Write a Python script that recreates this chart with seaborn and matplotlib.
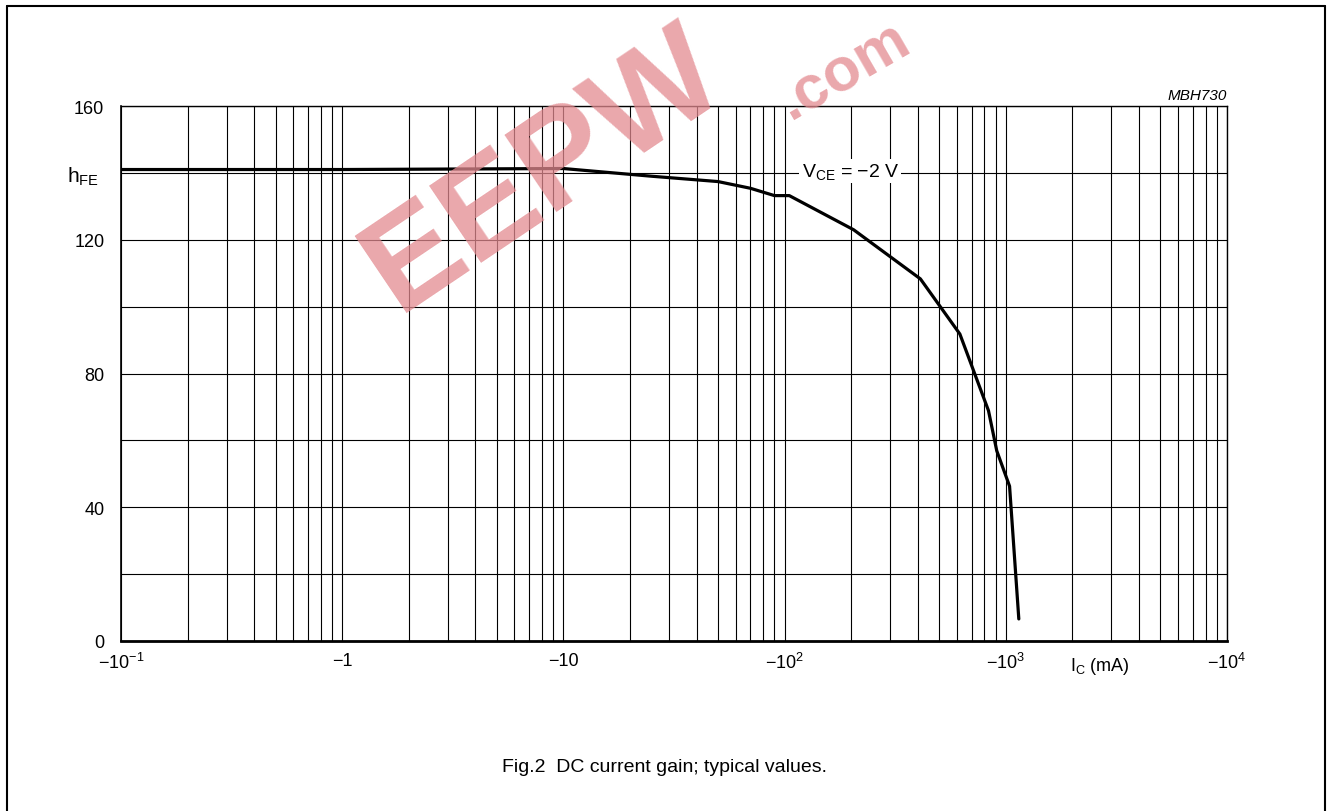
"""
DC current gain plot (datasheet style), hFE vs collector current.
"""

import matplotlib
matplotlib.use("Agg")
import matplotlib.pyplot as plt
import seaborn as sns
from matplotlib.lines import Line2D
from matplotlib.ticker import LogLocator, NullFormatter

# ------------------------------------------------------------------
# Data (VCE = -2 V)
# ------------------------------------------------------------------
ic_ma = [0.1, 1, 10, 25, 50, 70, 90, 105, 205, 411, 620, 835, 910, 1040, 1145]
hfe = [141, 141, 141.3, 139, 137.4, 135.4, 133.2, 133.2, 123, 108.3, 91.8, 68.9, 56.9, 46.3, 6.6]

x_ticks = [0.1, 1, 10, 100, 1000, 10000]
x_tick_labels = ["\u221210$^{\u22121}$", "\u22121", "\u221210",
                 "\u221210$^{2}$", "\u221210$^{3}$", "\u221210$^{4}$"]
y_ticks = [0, 40, 80, 120, 160]

sns.set_style("white")
plt.rcParams["font.family"] = ["Liberation Sans", "DejaVu Sans"]
plt.rcParams["mathtext.fontset"] = "custom"
plt.rcParams["mathtext.rm"] = "Liberation Sans"
plt.rcParams["mathtext.it"] = "Liberation Sans:italic"
plt.rcParams["mathtext.default"] = "regular"
plt.rcParams["text.color"] = "black"
plt.rcParams["xtick.color"] = "black"
plt.rcParams["ytick.color"] = "black"

fig = plt.figure(figsize=(13.32, 8.12), dpi=100)
ax = fig.add_axes([121 / 1332, 1 - 642 / 812, 1106 / 1332, 535 / 812])

sns.lineplot(x=ic_ma, y=hfe, ax=ax, color="black", lw=2.3,
             sort=False, estimator=None, zorder=5)

ax.set_xscale("log")
ax.set_xlim(0.1, 10000)
ax.set_ylim(0, 160)

# log grid: decades + 2..9 subdivisions, y every 20
ax.xaxis.set_major_locator(LogLocator(base=10, numticks=10))
ax.xaxis.set_minor_locator(LogLocator(base=10, subs=range(2, 10), numticks=100))
ax.xaxis.set_minor_formatter(NullFormatter())
ax.set_xticks(x_ticks)
ax.set_xticklabels(x_tick_labels)
ax.set_yticks(range(0, 161, 20), minor=True)
ax.set_yticks(y_ticks)
ax.grid(which="both", color="black", lw=0.8)
ax.tick_params(which="both", length=0, labelsize=13)
ax.tick_params(axis="x", pad=8)
ax.tick_params(axis="y", pad=12)

for side, sp in ax.spines.items():
    sp.set_visible(True)
    sp.set_color("black")
    sp.set_linewidth(1.0)
ax.spines["bottom"].set_linewidth(2.0)
ax.spines["left"].set_linewidth(1.2)

# labels
ax.text(-0.02, 0.87, "h$_{FE}$", transform=ax.transAxes, ha="right", va="center", fontsize=15)
ax.text(198, 140.5, "V$_{CE}$ = \u22122 V", ha="center", va="center", fontsize=14,
        bbox=dict(facecolor="white", edgecolor="none", pad=1.5), zorder=6)
ax.text(0.885, -0.045, "I$_{C}$ (mA)", transform=ax.transAxes, ha="center", va="center", fontsize=13)
ax.text(1.0, 1.008, "MBH730", transform=ax.transAxes, ha="right", va="bottom",
        fontsize=11, style="italic")

fig.text(665 / 1332, 1 - 768 / 812, "Fig.2  DC current gain; typical values.",
         ha="center", va="center", fontsize=14)

# outer frame of the datasheet figure
l, r, t = 7 / 1332, 1325 / 1332, 1 - 7 / 812
for xs, ys in [([l, l], [-0.01, t]), ([l, r], [t, t]), ([r, r], [t, -0.01])]:
    fig.add_artist(Line2D(xs, ys, color="black", lw=1.5, transform=fig.transFigure))

# site watermark
fig.text(545 / 1332, 1 - 172 / 812, "EEPW", color="#e38a90", alpha=0.75, fontsize=98,
         fontweight="bold", rotation=34, ha="center", va="center", zorder=10)
fig.text(845 / 1332, 1 - 72 / 812, ".com", color="#e38a90", alpha=0.75, fontsize=44,
         fontweight="bold", rotation=30, ha="center", va="center", zorder=10)

plt.savefig("out.png", dpi=100)
plt.close()
